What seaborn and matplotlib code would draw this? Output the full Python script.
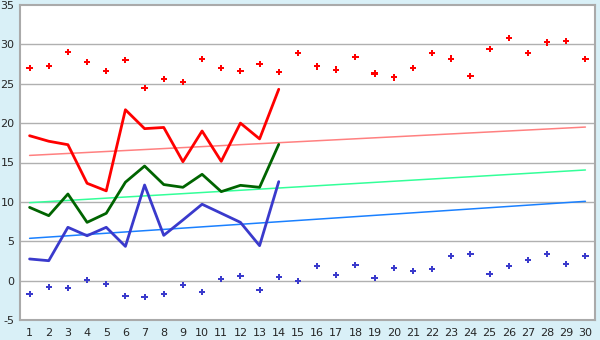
import matplotlib
matplotlib.use("Agg")
import matplotlib.pyplot as plt
import seaborn as sns
import pandas as pd

days = list(range(1, 31))
max_points = [27.0, 27.3, 29.0, 27.8, 26.6, 28.0, 24.5, 25.6, 25.2, 28.1,
              27.0, 26.6, 27.5, 26.45, 28.9, 27.2, 26.8, 28.35, 26.3, 25.8,
              27.0, 28.9, 28.2, 25.95, 29.4, 30.8, 28.9, 30.25, 30.4, 28.1]
min_points = [-1.74, -0.85, -0.98, 0.04, -0.47, -2.0, -2.12, -1.74, -0.6, -1.49,
              0.17, 0.55, -1.23, 0.42, -0.09, 1.82, 0.68, 1.95, 0.3, 1.56,
              1.18, 1.44, 3.09, 3.34, 0.8, 1.82, 2.58, 3.34, 2.07, 3.09]
line_days = list(range(1, 15))
red_line = [18.4, 17.7, 17.26, 12.36, 11.4, 21.7, 19.3, 19.45, 15.1, 19.0,
            15.15, 20.0, 18.0, 24.3]
green_line = [9.3, 8.25, 11.0, 7.4, 8.55, 12.5, 14.55, 12.2, 11.85, 13.5,
              11.3, 12.1, 11.85, 17.3]
blue_line = [2.75, 2.53, 6.77, 5.7, 6.77, 4.35, 12.14, 5.75, 7.7, 9.7,
             8.55, 7.4, 4.44, 12.57]
trend_days = [1, 30]
red_trend = [15.9, 19.5]
green_trend = [9.9, 14.05]
blue_trend = [5.37, 10.07]
y_ticks = [-5, 0, 5, 10, 15, 20, 25, 30, 35]

sns.set_theme(style="white")
plt.rcParams['font.family'] = ['DejaVu Sans']

bg = "#d9f0f7"
fig = plt.figure(figsize=(6, 3.4), dpi=100, facecolor=bg)
ax = fig.add_axes([20/600, 1-320/340, 575/600, 315/340])
ax.set_facecolor("white")

for yv in y_ticks[1:-1]:
    ax.axhline(yv, color="#b0b0b0", lw=1.0, zorder=0)

sns.lineplot(x=trend_days, y=red_trend, ax=ax, color="#ff8080", lw=1.1, zorder=2)
sns.lineplot(x=trend_days, y=green_trend, ax=ax, color="#33ff99", lw=1.1, zorder=2)
sns.lineplot(x=trend_days, y=blue_trend, ax=ax, color="#1a80ff", lw=1.1, zorder=2)

sns.lineplot(x=line_days, y=red_line, ax=ax, color="#ff0000", lw=2, zorder=3)
sns.lineplot(x=line_days, y=green_line, ax=ax, color="#006400", lw=2, zorder=3)
sns.lineplot(x=line_days, y=blue_line, ax=ax, color="#3a3acc", lw=2, zorder=3)

sns.scatterplot(x=days, y=max_points, ax=ax, color="#ff0000", marker="P", s=20,
                edgecolor="none", linewidth=0, zorder=4)
sns.scatterplot(x=days, y=min_points, ax=ax, color="#3a3acc", marker="P", s=20,
                edgecolor="none", linewidth=0, zorder=4)

ax.set_xlim(0.5, 30.5)
ax.set_ylim(-5, 35)
ax.set_xticks(days)
ax.set_xticklabels([str(d) for d in days])
ax.set_yticks(y_ticks)
ax.set_yticklabels([str(v) for v in y_ticks])
ax.tick_params(axis="x", direction="out", length=5, width=1, color="#333333",
               labelsize=8, pad=1)
ax.tick_params(axis="y", direction="out", length=3, width=1, color="#333333",
               labelsize=8, pad=1)
for s in ax.spines.values():
    s.set_color("#aaaaaa")
    s.set_linewidth(1.5)
ax.set_xlabel("")
ax.set_ylabel("")

fig.savefig("out.png", dpi=100, facecolor=bg)
